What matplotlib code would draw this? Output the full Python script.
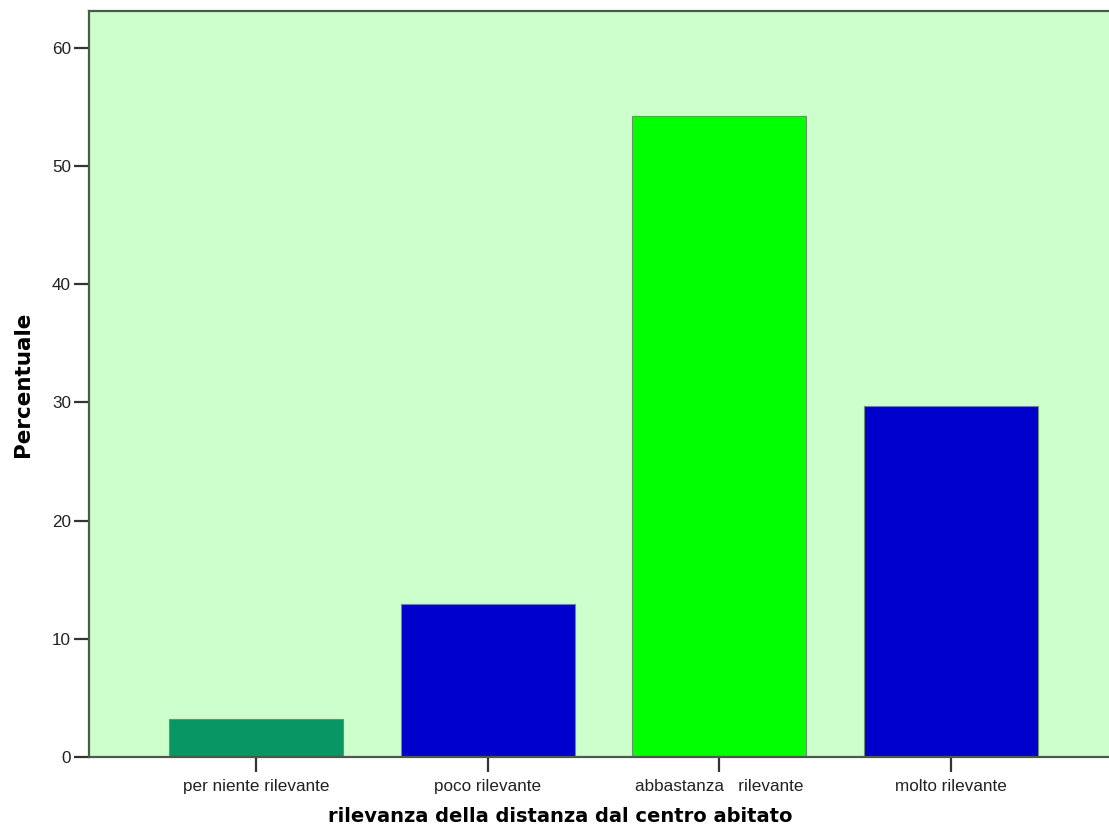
import numpy as np
import matplotlib
matplotlib.use("Agg")
import matplotlib.pyplot as plt

categorie = ["per niente rilevante", "poco rilevante", "abbastanza   rilevante", "molto rilevante"]
percentuali = [3.2, 12.9, 54.2, 29.7]
colori = ["#079664", "#0000CC", "#00FF00", "#0000CC"]

fig = plt.figure(figsize=(11.09, 8.36), dpi=100)
ax = fig.add_axes([89/1109, 1 - 757/836, (1118 - 89)/1109, (757 - 11)/836])
ax.set_facecolor("#CCFFCC")

x = np.arange(len(categorie))
ax.bar(x, percentuali, width=0.75, color=colori, edgecolor="#6f8f6f", linewidth=0.8, zorder=2)

ax.set_xlim(-0.72, 3.72)
ax.set_ylim(0, 63.1)
ax.set_yticks([0, 10, 20, 30, 40, 50, 60])
ax.set_xticks(x)
ax.set_xticklabels(categorie, fontfamily="Liberation Sans", fontsize=12.3, color="#222222")
for lab in ax.get_yticklabels():
    lab.set_fontfamily("Liberation Sans")
    lab.set_fontsize(12.3)
    lab.set_color("#222222")
ax.tick_params(axis="y", direction="out", length=11, width=1.6, color="#333333", pad=2)
ax.tick_params(axis="x", direction="out", length=11, width=1.6, color="#333333", pad=5)

for s in ["left", "bottom", "top"]:
    ax.spines[s].set_color("#4a5a4a")
    ax.spines[s].set_linewidth(1.6)
ax.spines["right"].set_visible(False)

fig.text(23/1109, 1 - 384/836, "Percentuale", rotation=90, ha="center", va="center",
         fontfamily="DejaVu Sans", fontweight="bold", fontsize=15.5)
fig.text(560/1109, 1 - 816/836, "rilevanza della distanza dal centro abitato",
         ha="center", va="center", fontfamily="DejaVu Sans", fontweight="bold", fontsize=14)

fig.savefig("out.png", dpi=100)
